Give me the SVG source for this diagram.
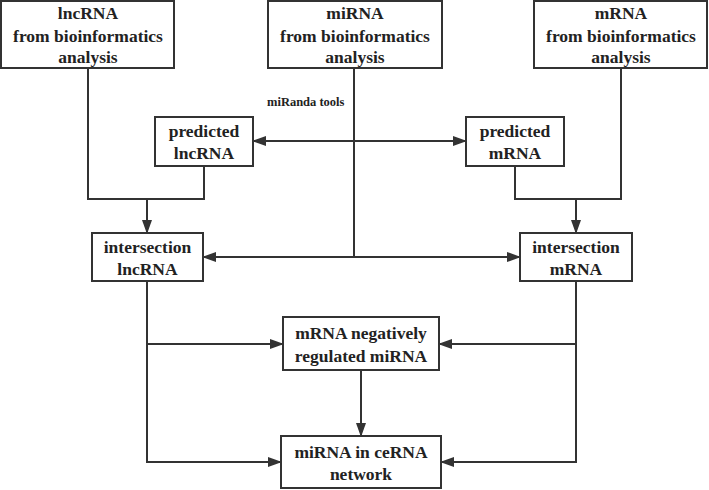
<svg xmlns="http://www.w3.org/2000/svg" width="709" height="490" viewBox="0 0 709 490">
<defs>
<marker id="ah" markerUnits="userSpaceOnUse" markerWidth="14" markerHeight="10" refX="13" refY="5" orient="auto-start-reverse">
<path d="M0,0 L14,5 L0,10 Z" fill="#333"/>
</marker>
<style>
rect{fill:#fff;stroke:#333;stroke-width:2}
text{font-family:"Liberation Serif","Times New Roman",serif;font-weight:bold;font-size:17.5px;fill:#222;text-anchor:middle}
.c{fill:none;stroke:#333;stroke-width:2}
.s{font-size:12.5px;text-anchor:start}
</style>
</defs>
<rect x="0" y="0" width="709" height="490" style="stroke:none;fill:#fff"/>
<g id="connectors">
<polyline class="c" points="88,68 88,199 204,199 204,166"/>
<line class="c" x1="147" y1="199" x2="147" y2="233" marker-end="url(#ah)"/>
<polyline class="c" points="621,68 621,199 515,199 515,166"/>
<line class="c" x1="576" y1="199" x2="576" y2="233" marker-end="url(#ah)"/>
<line class="c" x1="354" y1="68" x2="354" y2="257"/>
<line class="c" x1="253" y1="141" x2="466" y2="141" marker-start="url(#ah)" marker-end="url(#ah)"/>
<line class="c" x1="203" y1="257" x2="520" y2="257" marker-start="url(#ah)" marker-end="url(#ah)"/>
<polyline class="c" points="147,281 147,462 281,462" marker-end="url(#ah)"/>
<line class="c" x1="147" y1="344" x2="283" y2="344" marker-end="url(#ah)"/>
<polyline class="c" points="576,281 576,462 441,462" marker-end="url(#ah)"/>
<line class="c" x1="576" y1="344" x2="439" y2="344" marker-end="url(#ah)"/>
<line class="c" x1="361" y1="370" x2="361" y2="436" marker-end="url(#ah)"/>
<text class="s" x="267" y="106">miRanda tools</text>
</g>
<g id="lncrna">
<rect x="1" y="1" width="173" height="67"/>
<text x="88" y="19">lncRNA</text>
<text x="88" y="41.5">from bioinformatics</text>
<text x="88" y="63">analysis</text>
</g>
<g id="mirna">
<rect x="268" y="1" width="174" height="67"/>
<text x="355" y="19">miRNA</text>
<text x="355" y="41.5">from bioinformatics</text>
<text x="355" y="63">analysis</text>
</g>
<g id="mrna">
<rect x="534" y="1" width="173" height="67"/>
<text x="621" y="19">mRNA</text>
<text x="621" y="41.5">from bioinformatics</text>
<text x="621" y="63">analysis</text>
</g>
<g id="pred-lncrna">
<rect x="155" y="117" width="98" height="49"/>
<text x="204" y="137">predicted</text>
<text x="204" y="159">lncRNA</text>
</g>
<g id="pred-mrna">
<rect x="466" y="117" width="98" height="49"/>
<text x="515" y="137">predicted</text>
<text x="515" y="159">mRNA</text>
</g>
<g id="int-lncrna">
<rect x="92" y="233" width="111" height="48"/>
<text x="147.5" y="253">intersection</text>
<text x="147.5" y="275">lncRNA</text>
</g>
<g id="int-mrna">
<rect x="520" y="233" width="112" height="48"/>
<text x="576" y="253">intersection</text>
<text x="576" y="275">mRNA</text>
</g>
<g id="neg-mirna">
<rect x="283" y="317" width="156" height="53"/>
<text x="361" y="339">mRNA negatively</text>
<text x="361" y="362">regulated miRNA</text>
</g>
<g id="cerna">
<rect x="281" y="436" width="160" height="52"/>
<text x="361" y="458">miRNA in ceRNA</text>
<text x="361" y="480">network</text>
</g>
</svg>
